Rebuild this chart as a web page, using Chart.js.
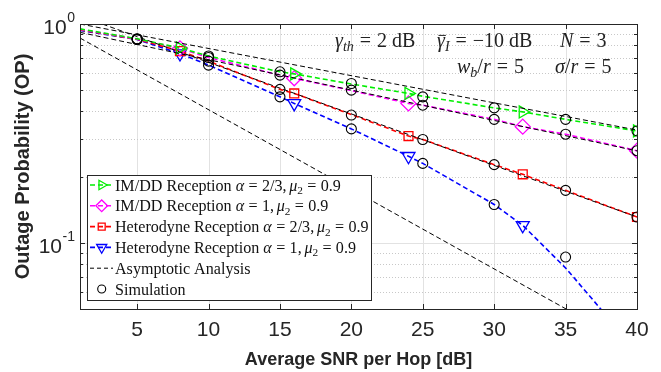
<!DOCTYPE html>
<html><head><meta charset="utf-8">
<script src="https://cdn.jsdelivr.net/npm/chart.js@4.4.1/dist/chart.umd.min.js"></script>
<style>html,body{margin:0;padding:0;background:#fff;} canvas{display:block;}</style>
</head><body>
<canvas id="c" width="661" height="372"></canvas>
<script>
// ---------- data ----------
const snrDb        = [1, 5, 8, 10, 15, 16, 20, 24, 25, 30, 32, 35, 40];
const opImddA23    = [0.950, 0.856, 0.777, 0.714, 0.605, 0.592, 0.532, 0.482, 0.468, 0.414, 0.397, 0.367, 0.325];
const opImddA1     = [0.945, 0.854, 0.774, 0.703, 0.584, 0.565, 0.497, 0.434, 0.426, 0.367, 0.340, 0.314, 0.264];
const opHetA23     = [0.940, 0.852, 0.752, 0.677, 0.503, 0.482, 0.386, 0.308, 0.297, 0.228, 0.206, 0.174, 0.1315];
const opHetA1      = [0.935, 0.850, 0.733, 0.649, 0.465, 0.434, 0.332, 0.249, 0.231, 0.150, 0.1205, 0.077, 0.032];
const markerSnrDb  = [8, 16, 24, 32, 40];

const simSnrDb     = [5, 10, 15, 20, 25, 30, 35, 40];
const simImddA23   = [0.856, 0.714, 0.605, 0.535, 0.465, 0.414, 0.367, 0.325];
const simImddA1    = [0.854, 0.703, 0.584, 0.499, 0.426, 0.367, 0.314, 0.264];
const simHetA23    = [0.852, 0.677, 0.503, 0.384, 0.297, 0.228, 0.174, 0.1315];
const simHetA1     = [0.850, 0.649, 0.465, 0.332, 0.231, 0.150, 0.0863, null];

const asymSnrDb    = [1, 40];
const asymImddA23  = [1.000, 0.328];
const asymImddA1   = [0.916, 0.2635];
const asymHetA23   = [1.088, 0.1315];
const asymSteep    = [0.863, 0.033];

const xTickValues  = [5, 10, 15, 20, 25, 30, 35, 40];
const yMajorTicks  = [1, 0.1];
const yMinorTicks  = [0.05, 0.06, 0.07, 0.08, 0.09, 0.2, 0.3, 0.4, 0.5, 0.6, 0.7, 0.8, 0.9];

const xTitle = 'Average SNR per Hop [dB]';
const yTitle = 'Outage Probability (OP)';

// ---------- styles ----------
const SERIF = '"Liberation Serif", "DejaVu Serif", serif';
const SANS = '"Liberation Sans", Arial, sans-serif';
const AX = '#262626';

const zip = (xs, ys) => xs.map((x, i) => ({x, y: ys[i]}));

const curveDefs = [
  {data: opImddA23, color: '#00ee00', style: 'triangle', rot: 90, r: 7},
  {data: opImddA1,  color: '#ff00ff', style: 'rectRot', rot: 0, r: 7.5},
  {data: opHetA23,  color: '#ff0000', style: 'rect', rot: 0, r: 6.3},
  {data: opHetA1,   color: '#0000ff', style: 'triangle', rot: 180, r: 7.5},
];

const datasets = [];
[simImddA23, simImddA1, simHetA23, simHetA1].forEach(s => datasets.push({
  data: zip(simSnrDb, s), showLine: false, pointStyle: 'circle', pointRadius: 5,
  pointBorderColor: '#000', pointBackgroundColor: 'rgba(0,0,0,0)', pointBorderWidth: 1.1,
  borderColor: '#000'
}));
[asymImddA23, asymImddA1, asymHetA23, asymSteep].forEach(s => datasets.push({
  data: zip(asymSnrDb, s), borderColor: '#000', borderWidth: 1, borderDash: [5, 3],
  pointRadius: 0, fill: false, tension: 0
}));
curveDefs.forEach(c => datasets.push({
  data: zip(snrDb, c.data), borderColor: c.color, borderWidth: 1.6, borderDash: [5, 3],
  fill: false, tension: 0, pointStyle: c.style, pointRotation: c.rot,
  pointRadius: ctx => (ctx.raw && markerSnrDb.includes(ctx.raw.x)) ? c.r : 0,
  pointBorderColor: c.color, pointBackgroundColor: 'rgba(0,0,0,0)', pointBorderWidth: 1.3
}));

// ---------- text helpers ----------
function drawRuns(ctx, x, y, runs, size) {
  let cx = x;
  ctx.textBaseline = 'alphabetic';
  ctx.textAlign = 'left';
  for (const r of runs) {
    if (r.gap !== undefined) { cx += r.gap * size; continue; }
    const s = (r.sub || r.sup) ? size * 0.7 : size;
    ctx.font = (r.it ? 'italic ' : '') + s + 'px ' + SERIF;
    const dy = r.sub ? size * 0.22 : (r.sup ? -size * 0.4 : 0);
    ctx.fillText(r.t, cx, y + dy);
    const w = ctx.measureText(r.t).width;
    if (r.bar) {
      ctx.save(); ctx.lineWidth = 1; ctx.strokeStyle = ctx.fillStyle;
      ctx.beginPath(); ctx.moveTo(cx + 1.5, y - size * 0.58); ctx.lineTo(cx + w + 1, y - size * 0.58); ctx.stroke();
      ctx.restore();
    }
    cx += w;
  }
  return cx - x;
}
const EQ = [{gap: 0.27}, {t: '='}, {gap: 0.27}];
const EQA = [{gap: 0.3}, {t: '='}, {gap: 0.3}];
function legendRuns(prefix, alpha) {
  return [{t: prefix + ' '}, {t: 'α', it: 1}, ...EQ, {t: alpha + ','}, {gap: 0.17},
          {t: 'μ', it: 1}, {t: '2', sub: 1}, ...EQ, {t: '0.9'}];
}
const legendEntries = [
  {runs: legendRuns('IM/DD Reception', '2/3'), c: 0},
  {runs: legendRuns('IM/DD Reception', '1'), c: 1},
  {runs: legendRuns('Heterodyne Reception', '2/3'), c: 2},
  {runs: legendRuns('Heterodyne Reception', '1'), c: 3},
  {runs: [{t: 'Asymptotic Analysis'}], asym: true},
  {runs: [{t: 'Simulation'}], sim: true},
];
const annotations = [
  {x: 335, y: 47, runs: [{t: 'γ', it: 1}, {t: 'th', it: 1, sub: 1}, ...EQA, {t: '2'}, {gap: 0.25}, {t: 'dB'}]},
  {x: 437, y: 47, runs: [{t: 'γ', it: 1, bar: 1}, {t: 'I', it: 1, sub: 1}, ...EQA, {t: '−10'}, {gap: 0.25}, {t: 'dB'}]},
  {x: 560, y: 47, runs: [{t: 'N', it: 1}, ...EQA, {t: '3'}]},
  {x: 457, y: 73, runs: [{t: 'w', it: 1}, {t: 'b', it: 1, sub: 1}, {t: '/'}, {t: 'r', it: 1}, ...EQA, {t: '5'}]},
  {x: 555, y: 73, runs: [{t: 'σ', it: 1}, {t: '/'}, {t: 'r', it: 1}, ...EQA, {t: '5'}]},
];

const px = v => Math.round(v) + 0.5;

const customPlugin = {
  id: 'custom',
  beforeDatasetsDraw(chart) {
    const {ctx, chartArea: a, scales: {x, y}} = chart;
    ctx.save();
    ctx.lineWidth = 1;
    ctx.strokeStyle = '#e2e2e2';
    xTickValues.forEach(v => {
      const X = px(x.getPixelForValue(v));
      ctx.beginPath(); ctx.moveTo(X, a.top); ctx.lineTo(X, a.bottom); ctx.stroke();
    });
    yMajorTicks.forEach(v => {
      const Y = px(y.getPixelForValue(v));
      ctx.beginPath(); ctx.moveTo(a.left, Y); ctx.lineTo(a.right, Y); ctx.stroke();
    });
    ctx.strokeStyle = '#c8c8c8';
    ctx.setLineDash([1, 2]);
    yMinorTicks.forEach(v => {
      const Y = px(y.getPixelForValue(v));
      ctx.beginPath(); ctx.moveTo(a.left, Y); ctx.lineTo(a.right, Y); ctx.stroke();
    });
    ctx.restore();
  },
  afterDatasetsDraw(chart) {
    const {ctx, chartArea: a, scales: {x, y}} = chart;
    ctx.save();
    ctx.strokeStyle = AX; ctx.lineWidth = 1; ctx.setLineDash([]);
    ctx.strokeRect(px(a.left), px(a.top), Math.round(a.right - a.left), Math.round(a.bottom - a.top));
    ctx.beginPath();
    xTickValues.forEach(v => {
      const X = px(x.getPixelForValue(v));
      ctx.moveTo(X, a.bottom); ctx.lineTo(X, a.bottom - 5);
      ctx.moveTo(X, a.top); ctx.lineTo(X, a.top + 5);
    });
    yMajorTicks.concat(yMinorTicks).forEach(v => {
      const Y = px(y.getPixelForValue(v));
      const L = yMajorTicks.includes(v) ? 5 : 3;
      ctx.moveTo(a.left, Y); ctx.lineTo(a.left + L, Y);
      ctx.moveTo(a.right, Y); ctx.lineTo(a.right - L, Y);
    });
    ctx.stroke();
    ctx.fillStyle = AX;
    yMajorTicks.forEach(v => {
      const Y = y.getPixelForValue(v);
      const e = String(Math.round(Math.log10(v)));
      ctx.font = '14px ' + SANS;
      const sw = ctx.measureText(e).width;
      const sx = 75 - sw;
      ctx.textBaseline = 'middle'; ctx.textAlign = 'left';
      ctx.fillText(e, sx, Y - 6);
      ctx.font = '21px ' + SANS;
      ctx.textAlign = 'right';
      ctx.fillText('10', sx - 0.5, Y + 4);
    });
    ctx.fillStyle = '#222';
    annotations.forEach(an => drawRuns(ctx, an.x, an.y, an.runs, 20));
    const L = {x0: 87, y0: 175, x1: 371, y1: 300};
    ctx.fillStyle = '#fff';
    ctx.fillRect(L.x0, L.y0, L.x1 - L.x0, L.y1 - L.y0);
    ctx.strokeStyle = AX; ctx.lineWidth = 1;
    ctx.strokeRect(px(L.x0), px(L.y0), L.x1 - L.x0, L.y1 - L.y0);
    const rowY = [185, 205.8, 226.6, 247.4, 268.2, 289];
    legendEntries.forEach((en, i) => {
      const cy = rowY[i];
      if (en.c !== undefined || en.asym) {
        const col = en.asym ? '#000' : curveDefs[en.c].color;
        ctx.save();
        ctx.strokeStyle = col; ctx.lineWidth = en.asym ? 1 : 1.6;
        ctx.setLineDash(en.asym ? [4, 3] : [5, 3]);
        ctx.beginPath(); ctx.moveTo(90, cy); ctx.lineTo(113, cy); ctx.stroke();
        ctx.restore();
      }
      if (en.c !== undefined) {
        const c = curveDefs[en.c];
        ctx.save();
        ctx.strokeStyle = c.color; ctx.fillStyle = 'rgba(0,0,0,0)'; ctx.setLineDash([]);
        ctx.lineWidth = 1.3;
        Chart.helpers.drawPoint(ctx, {pointStyle: c.style, rotation: c.rot, radius: c.r * 0.78, borderWidth: 1.3}, 101.7, cy);
        ctx.restore();
      }
      if (en.sim) {
        ctx.save();
        ctx.strokeStyle = '#000'; ctx.lineWidth = 1.1;
        ctx.beginPath(); ctx.arc(101.7, cy, 4, 0, Math.PI * 2); ctx.stroke();
        ctx.restore();
      }
      ctx.fillStyle = '#111';
      drawRuns(ctx, 115, cy + 5.5, en.runs, 16.1);
    });
    ctx.restore();
  }
};

new Chart(document.getElementById('c'), {
  type: 'line',
  data: {datasets},
  options: {
    responsive: false,
    animation: false,
    events: [],
    layout: {padding: {top: 24, right: 24, left: 0, bottom: 0}},
    plugins: {legend: {display: false}, tooltip: {enabled: false}},
    scales: {
      x: {
        type: 'linear', min: 1, max: 40,
        afterBuildTicks: s => { s.ticks = xTickValues.map(v => ({value: v})); },
        afterFit: s => { s.height = 63; },
        grid: {display: false, drawTicks: false},
        border: {display: false},
        ticks: {font: {family: SANS, size: 21}, color: AX, padding: 9, maxRotation: 0, autoSkip: false},
        title: {display: true, text: xTitle, color: AX, font: {family: SANS, size: 18, weight: 'bold'}, padding: {top: 0, bottom: 1}}
      },
      y: {
        type: 'logarithmic', min: 0.05, max: 1,
        afterFit: s => { s.width = 80; },
        grid: {display: false, drawTicks: false},
        border: {display: false},
        ticks: {display: false},
        title: {display: true, text: yTitle, color: AX, font: {family: SANS, size: 20, weight: 'bold'}, padding: {top: 11, bottom: 0}}
      }
    }
  },
  plugins: [customPlugin]
});
</script>
</body></html>
